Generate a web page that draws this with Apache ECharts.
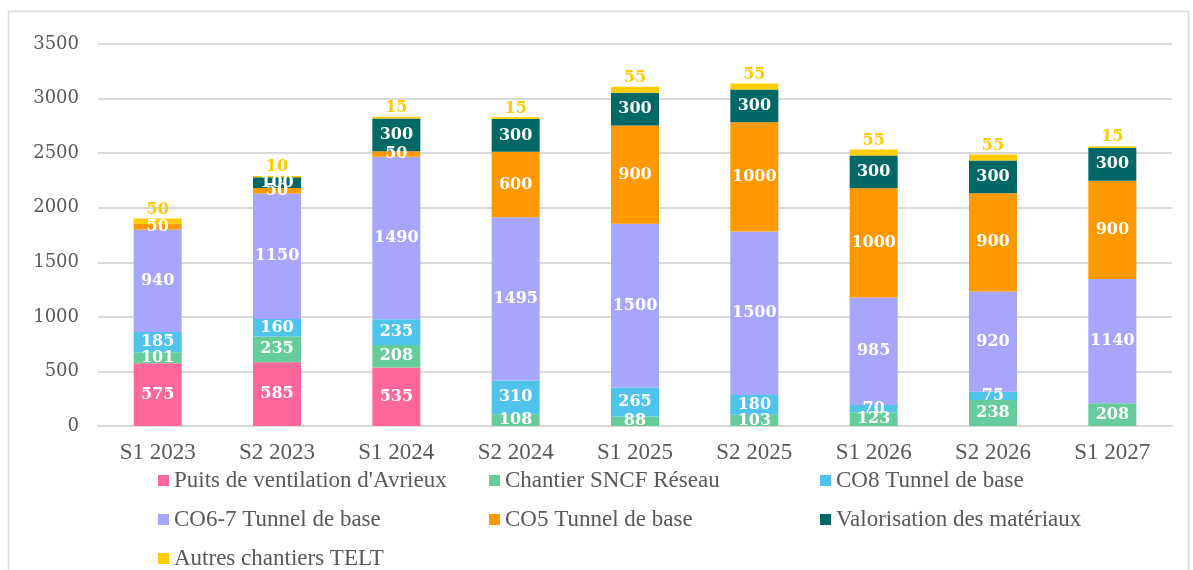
<!DOCTYPE html>
<html>
<head>
<meta charset="utf-8">
<script src="https://cdn.jsdelivr.net/npm/echarts@6/dist/echarts.min.js"></script>
<style>
  html, body { margin: 0; padding: 0; background: #fff; }
  #chart { width: 1193px; height: 570px; }
</style>
</head>
<body>
<div id="chart"></div>
<script>
// categories
var periods = ['S1 2023', 'S2 2023', 'S1 2024', 'S2 2024', 'S1 2025', 'S2 2025', 'S1 2026', 'S2 2026', 'S1 2027'];

// series values (0 = absent)
var puits = [575, 585, 535, 0, 0, 0, 0, 0, 0];
var sncf = [101, 235, 208, 108, 88, 103, 123, 238, 208];
var co8 = [185, 160, 235, 310, 265, 180, 70, 75, 0];
var co67 = [940, 1150, 1490, 1495, 1500, 1500, 985, 920, 1140];
var co5 = [50, 50, 50, 600, 900, 1000, 1000, 900, 900];
var valo = [0, 100, 300, 300, 300, 300, 300, 300, 300];
var autres = [50, 10, 15, 15, 55, 55, 55, 55, 15];

var names = [
  "Puits de ventilation d'Avrieux",
  'Chantier SNCF Réseau',
  'CO8 Tunnel de base',
  'CO6-7 Tunnel de base',
  'CO5 Tunnel de base',
  'Valorisation des matériaux',
  'Autres chantiers TELT'
];
var colors = ['#ff6699', '#66cc99', '#4fc3ec', '#a6a6fc', '#ff9900', '#006966', '#ffcc00'];
var allData = [puits, sncf, co8, co67, co5, valo, autres];

var labelFont = 'DejaVu Serif';
var textFont = 'Liberation Serif';

var series = [];
allData.forEach(function(d, i){
  var last = i === allData.length - 1;
  series.push({
    name: names[i],
    type: 'bar',
    stack: 'total',
    barWidth: 48,
    data: d,
    itemStyle: { color: colors[i] },
    label: {
      show: true,
      position: last ? 'top' : 'inside',
      distance: 1,
      color: last ? '#ffcc00' : '#fff',
      fontFamily: labelFont,
      fontWeight: 'bold',
      fontSize: 16,
      formatter: function(p){ return p.value ? String(p.value) : ''; }
    }
  });
});

// legend: 3 columns, one legend per item
var legendCols = [153, 484, 815];
var legendRows = [464, 503, 542];
var legends = names.map(function(n, i){
  return {
    left: legendCols[i % 3],
    top: legendRows[Math.floor(i / 3)],
    itemWidth: 11,
    itemHeight: 11,
    icon: 'rect',
    data: [n],
    selectedMode: false,
    textStyle: { fontFamily: textFont, fontSize: 23, color: '#595959' }
  };
});

var option = {
  animation: false,
  color: colors,
  graphic: [{
    type: 'rect',
    shape: { x: 8.5, y: 11.5, width: 1180, height: 600 },
    style: { fill: 'none', stroke: '#d9d9d9', lineWidth: 1.5 },
    silent: true
  }],
  grid: { left: 98, right: 21, top: 44, bottom: 144 },
  legend: legends,
  xAxis: {
    type: 'category',
    data: periods,
    axisLine: { lineStyle: { color: '#d9d9d9', width: 2 } },
    axisTick: { show: false },
    axisLabel: { fontFamily: textFont, fontSize: 23, color: '#595959', margin: 15 }
  },
  yAxis: {
    type: 'value',
    min: 0,
    max: 3500,
    interval: 500,
    axisLine: { show: false },
    axisTick: { show: false },
    splitLine: { lineStyle: { color: '#d9d9d9', width: 2 } },
    axisLabel: {
      fontFamily: labelFont, fontSize: 18, color: '#595959', margin: 19,
      formatter: function(v){ return String(v); }
    }
  },
  series: series
};

var chart = echarts.init(document.getElementById('chart'));
chart.setOption(option);
</script>
</body>
</html>
